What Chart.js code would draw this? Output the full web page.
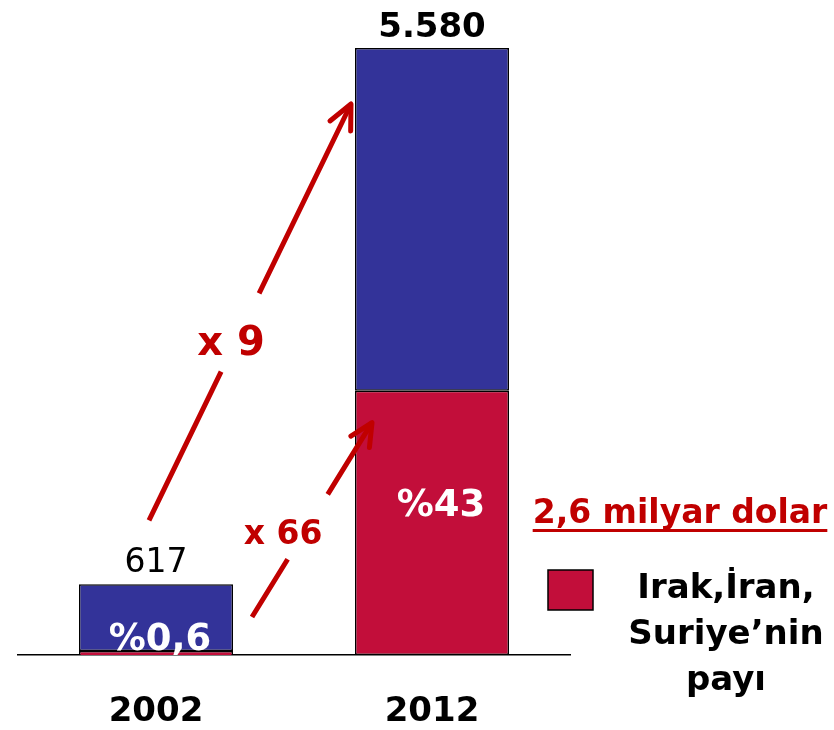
<!DOCTYPE html>
<html>
<head>
<meta charset="utf-8">
<script src="https://cdn.jsdelivr.net/npm/chart.js@4/dist/chart.umd.min.js"></script>
<style>
  html, body { margin: 0; padding: 0; background: #ffffff; }
  #wrap { width: 834px; height: 730px; }
</style>
</head>
<body>
<div id="wrap"><canvas id="c" width="834" height="730"></canvas></div>
<script>
// ---- data ----
const categories = ['2002', '2012'];
const totals = [617, 5580];
const regionValues = [3.7, 2430];     // Irak, İran, Suriye payı
const otherValues = [613.3, 3150];    // diğer
const totalLabels = ['617', '5.580'];
const shareLabels = ['%0,6', '%43'];
const growthLabels = ['x 9', 'x 66'];
const highlightLabel = '2,6 milyar dolar';
const legendLines = ['Irak,İran,', 'Suriye’nin', 'payı'];

const BLUE = '#333399';
const CRIMSON = '#C20E3A';
const ARROW_RED = '#C00000';
const FONT = '"DejaVu Sans", Verdana, sans-serif';

function arrow(ctx, x0, y0, x1, y1, t1, t2, headLen, headAng) {
  const dx = x1 - x0, dy = y1 - y0;
  ctx.save();
  ctx.strokeStyle = ARROW_RED;
  ctx.lineWidth = 5;
  ctx.lineCap = 'butt';
  ctx.beginPath();
  ctx.moveTo(x0, y0);
  ctx.lineTo(x0 + dx * t1, y0 + dy * t1);
  ctx.moveTo(x0 + dx * t2, y0 + dy * t2);
  ctx.lineTo(x1, y1);
  ctx.stroke();
  const back = Math.atan2(-dy, -dx);
  ctx.lineCap = 'round';
  ctx.lineJoin = 'round';
  ctx.beginPath();
  ctx.moveTo(x1 + headLen * Math.cos(back + headAng), y1 + headLen * Math.sin(back + headAng));
  ctx.lineTo(x1, y1);
  ctx.lineTo(x1 + headLen * Math.cos(back - headAng), y1 + headLen * Math.sin(back - headAng));
  ctx.stroke();
  ctx.restore();
}

const annotations = {
  id: 'annotations',
  afterDatasetsDraw(chart) {
    const ctx = chart.ctx;
    const red = chart.getDatasetMeta(0).data;
    const blue = chart.getDatasetMeta(1).data;
    const base = chart.scales.y.getPixelForValue(0);
    ctx.save();
    ctx.textAlign = 'center';
    ctx.textBaseline = 'alphabetic';

    // totals above bars
    ctx.fillStyle = '#000';
    ctx.font = 'normal 33px ' + FONT;
    ctx.fillText(totalLabels[0], blue[0].x, blue[0].y - 12);
    ctx.font = 'bold 34px ' + FONT;
    ctx.fillText(totalLabels[1], blue[1].x, blue[1].y - 11);

    // shares inside bars
    ctx.fillStyle = '#fff';
    ctx.font = 'bold 37px ' + FONT;
    ctx.fillText(shareLabels[0], blue[0].x + 4, base - 5);
    ctx.fillText(shareLabels[1], red[1].x + 9, red[1].y + 125);

    // growth arrows
    const b0r = blue[0].x + blue[0].width / 2;
    const b1l = blue[1].x - blue[1].width / 2;
    arrow(ctx, blue[0].x - 7, blue[0].y - 64, b1l - 4, blue[1].y + 56, 0.357, 0.545, 27, 0.44);
    arrow(ctx, b0r + 19, base - 38, b1l + 17, red[1].y + 32, 0.297, 0.631, 25, 0.45);

    ctx.fillStyle = ARROW_RED;
    ctx.font = 'bold 40px ' + FONT;
    ctx.fillText(growthLabels[0], 231, 355);
    ctx.font = 'bold 33px ' + FONT;
    ctx.fillText(growthLabels[1], 283, 544);

    // highlight text with underline
    ctx.font = 'bold 33px ' + FONT;
    ctx.fillText(highlightLabel, 680, 523);
    const w = ctx.measureText(highlightLabel).width;
    ctx.fillRect(680 - w / 2, 529, w, 3);

    // legend
    ctx.fillStyle = CRIMSON;
    ctx.fillRect(548, 570, 45, 40);
    ctx.strokeStyle = '#000';
    ctx.lineWidth = 1.5;
    ctx.strokeRect(548, 570, 45, 40);
    ctx.fillStyle = '#000';
    ctx.font = 'bold 34px ' + FONT;
    legendLines.forEach((t, i) => ctx.fillText(t, 726, 598 + i * 46));
    ctx.restore();
  }
};

new Chart(document.getElementById('c'), {
  type: 'bar',
  data: {
    labels: categories,
    datasets: [
      {
        label: 'Irak, İran, Suriye’nin payı',
        data: regionValues,
        backgroundColor: CRIMSON,
        borderColor: '#000',
        borderWidth: [{ top: 1.5, left: 1.5, right: 1.5, bottom: 0 }, 1.5],
        borderSkipped: false,
        minBarLength: 4
      },
      {
        label: 'Toplam',
        data: otherValues,
        backgroundColor: BLUE,
        borderColor: '#000',
        borderWidth: 1.5,
        borderSkipped: false
      }
    ]
  },
  plugins: [annotations],
  options: {
    responsive: false,
    animation: false,
    devicePixelRatio: 1,
    layout: { padding: { left: 18, right: 264, top: 48, bottom: 1 } },
    plugins: { legend: { display: false }, tooltip: { enabled: false } },
    datasets: { bar: { categoryPercentage: 1, barPercentage: 0.558 } },
    scales: {
      x: {
        stacked: true,
        grid: { display: false, drawTicks: false },
        border: { display: true, color: '#000', width: 1.5 },
        ticks: { color: '#000', padding: 40, font: { family: FONT, size: 34, weight: 'bold', lineHeight: 1 } },
        afterFit(scale) { scale.height = 74; }
      },
      y: {
        stacked: true,
        display: false,
        min: 0,
        max: totals[1]
      }
    }
  }
});
</script>
</body>
</html>
